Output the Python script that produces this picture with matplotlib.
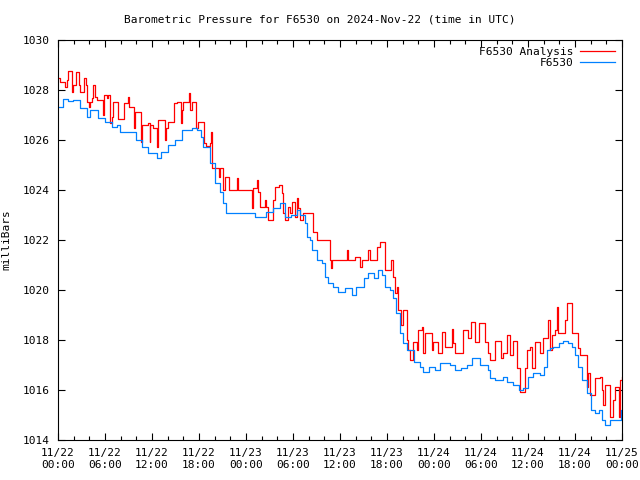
import datetime as dt
import matplotlib
matplotlib.use('Agg')
import matplotlib.pyplot as plt
import matplotlib.dates as mdates

# hours after 2024-11-22 00:00 UTC, pressure in mbar
obs_hours = [0.0, 0.68, 1.3, 1.95, 2.8, 3.66, 4.1, 4.7, 5.1, 6.0, 6.86, 7.5, 7.9, 9.6,
             10.0, 10.7, 11.5, 12.6, 13.2, 14.1, 14.9, 15.8, 17.1, 17.7, 18.3, 18.5,
             19.4, 20.0, 20.7, 21.1, 21.5, 24.5, 25.1, 26.6, 27.5, 28.3, 29.0, 29.8,
             30.5, 30.9, 31.5, 31.75, 32.2, 32.4, 33.0, 33.7, 34.1, 34.5, 35.1, 35.8,
             36.6, 37.5, 38.1, 39.0, 39.6, 40.3, 40.9, 41.3, 41.7, 42.4, 42.8, 43.2,
             43.66, 44.1, 44.5, 45.4, 46.2, 46.6, 47.3, 48.1, 48.8, 50.0, 50.7, 51.5,
             52.2, 52.8, 53.2, 53.9, 54.5, 54.9, 55.2, 55.8, 56.4, 56.8, 57.3, 58.1,
             58.8, 59.4, 60.0, 60.7, 61.5, 62.0, 62.4, 62.8, 63.2, 63.9, 64.5, 65.1,
             65.6, 66.0, 66.4, 66.9, 67.5, 68.1, 68.6, 69.0, 69.4, 69.8, 70.5, 71.7,
             71.9, 72.0]
obs_mbar = [1027.33, 1027.63, 1027.55, 1027.6, 1027.27, 1026.93, 1027.2, 1027.2, 1026.87,
            1026.73, 1026.53, 1026.6, 1026.33, 1026.33, 1026.0, 1025.73, 1025.47, 1025.27,
            1025.53, 1025.8, 1026.0, 1026.4, 1026.5, 1026.4, 1026.13, 1025.73, 1025.07,
            1024.27, 1023.93, 1023.47, 1023.07, 1023.1, 1022.93, 1023.13, 1023.27, 1023.49,
            1022.93, 1023.0, 1023.2, 1023.0, 1022.67, 1022.13, 1022.0, 1021.6, 1021.2,
            1021.07, 1020.53, 1020.27, 1020.13, 1019.93, 1020.07, 1019.8, 1020.13, 1020.47,
            1020.67, 1020.47, 1020.8, 1020.6, 1020.13, 1020.0, 1019.67, 1019.07, 1018.3,
            1017.87, 1017.6, 1017.13, 1016.93, 1016.73, 1016.93, 1016.8, 1017.07, 1017.0,
            1016.8, 1016.87, 1017.0, 1017.27, 1017.27, 1017.0, 1017.0, 1016.8, 1016.47,
            1016.4, 1016.4, 1016.53, 1016.33, 1016.2, 1016.0, 1016.07, 1016.53, 1016.67,
            1016.6, 1016.93, 1017.6, 1017.67, 1017.73, 1017.87, 1017.96, 1017.87, 1017.73,
            1017.4, 1016.93, 1016.4, 1015.87, 1015.2, 1015.07, 1015.2, 1014.8, 1014.6,
            1014.8, 1014.8, 1015.2, 1015.2]

ana_hours = [0.0, 0.3, 0.9, 1.1, 1.3, 1.75, 1.95, 2.26, 2.68, 2.81, 3.36, 3.54, 3.74,
             4.0, 4.1, 4.3, 4.51, 4.72, 4.94, 5.71, 5.87, 6.22, 6.42, 6.64, 6.86, 7.06,
             7.7, 8.46, 8.9, 9.0, 9.7, 9.83, 10.6, 10.76, 11.53, 11.71, 11.8, 12.17,
             12.68, 12.8, 13.66, 13.85, 14.08, 14.81, 15.15, 15.7, 15.79, 16.0, 16.72,
             16.79, 17.07, 17.66, 17.91, 18.64, 18.86, 19.4, 19.49, 19.7, 20.59, 20.74,
             21.1, 21.32, 21.83, 22.81, 22.98, 24.73, 24.93, 25.37, 25.57, 25.79, 26.43,
             26.6, 26.85, 27.41, 27.7, 28.2, 28.56, 28.76, 28.98, 29.4, 29.62, 29.83,
             30.26, 30.47, 30.64, 30.89, 31.32, 32.59, 33.03, 34.72, 34.9, 35.0, 36.86,
             37.02, 37.92, 38.55, 38.75, 39.61, 39.83, 40.69, 41.11, 41.75, 42.47, 42.73,
             43.02, 43.24, 43.44, 43.75, 44.08, 44.52, 44.72, 44.94, 45.36, 45.79, 46.0,
             46.43, 46.64, 46.85, 47.71, 47.91, 48.55, 48.98, 49.41, 50.26, 50.47, 50.68,
             51.74, 52.4, 52.69, 53.24, 53.75, 54.51, 54.93, 55.15, 55.79, 56.52, 56.87,
             57.28, 57.7, 58.13, 58.56, 58.98, 59.62, 59.84, 60.26, 60.47, 60.9, 61.53,
             61.88, 62.59, 62.75, 63.03, 63.45, 63.67, 63.87, 64.72, 64.94, 65.58, 66.42,
             66.64, 67.49, 67.7, 67.91, 68.55, 69.19, 69.41, 69.53, 69.83, 70.47, 70.89,
             71.11, 71.62, 71.74, 72.0]
ana_mbar = [1028.47, 1028.33, 1028.13, 1028.4, 1028.77, 1027.93, 1028.2, 1028.73, 1028.2,
            1027.93, 1028.47, 1028.2, 1027.53, 1027.33, 1027.53, 1027.67, 1028.2, 1027.73,
            1027.6, 1027.0, 1027.8, 1027.67, 1027.8, 1026.67, 1026.93, 1027.53, 1026.83,
            1027.47, 1027.73, 1027.33, 1026.47, 1027.13, 1025.93, 1026.6, 1026.67, 1025.93,
            1026.6, 1026.47, 1025.73, 1026.8, 1026.0, 1026.47, 1026.73, 1027.47, 1027.53,
            1026.67, 1027.2, 1027.53, 1027.87, 1027.2, 1027.53, 1026.47, 1026.73, 1025.87,
            1025.76, 1025.87, 1026.33, 1024.87, 1024.53, 1024.87, 1024.0, 1024.53, 1024.0,
            1024.47, 1024.0, 1023.27, 1024.07, 1024.4, 1023.93, 1023.33, 1023.6, 1023.33,
            1022.8, 1023.6, 1024.13, 1024.2, 1023.87, 1023.07, 1022.8, 1023.33, 1023.07,
            1023.53, 1022.93, 1023.67, 1023.27, 1022.8, 1023.07, 1022.33, 1022.0, 1021.2,
            1020.87, 1021.2, 1021.6, 1021.2, 1021.33, 1020.93, 1021.2, 1021.6, 1021.2,
            1021.73, 1021.93, 1020.8, 1021.2, 1020.53, 1019.87, 1020.13, 1019.2, 1018.6,
            1019.2, 1018.0, 1017.6, 1017.2, 1017.93, 1017.6, 1018.4, 1018.51, 1017.47,
            1018.27, 1017.6, 1017.93, 1017.47, 1018.33, 1017.73, 1018.43, 1017.9, 1017.47,
            1018.4, 1018.1, 1018.73, 1017.93, 1018.67, 1017.93, 1017.47, 1017.2, 1017.97,
            1017.27, 1017.47, 1018.2, 1017.4, 1017.97, 1016.87, 1015.93, 1016.87, 1017.6,
            1017.73, 1016.87, 1017.93, 1017.47, 1018.07, 1018.8, 1017.6, 1018.2, 1018.4,
            1019.33, 1018.27, 1018.8, 1019.49, 1018.27, 1017.67, 1017.4, 1016.13, 1016.67,
            1015.8, 1016.47, 1016.53, 1016.0, 1015.4, 1016.2, 1014.93, 1015.6, 1016.13,
            1014.93, 1016.4, 1016.53]

start = dt.datetime(2024, 11, 22)
obs_t = [start + dt.timedelta(hours=h) for h in obs_hours]
ana_t = [start + dt.timedelta(hours=h) for h in ana_hours]

plt.rcParams['font.family'] = 'DejaVu Sans Mono'
plt.rcParams['font.size'] = 8

fig = plt.figure(figsize=(6.4, 4.8), dpi=100)
ax = fig.add_axes([58 / 640, 40 / 480, 564 / 640, 400 / 480])

ax.plot(ana_t, ana_mbar, color='#ff0000', linewidth=0.9, drawstyle='steps-post', label='F6530 Analysis')
ax.plot(obs_t, obs_mbar, color='#0080ff', linewidth=0.9, drawstyle='steps-post', label='F6530')

ax.set_xlim(start, start + dt.timedelta(hours=72))
ax.set_ylim(1014, 1030)
ax.set_yticks(range(1014, 1031, 2))
ax.xaxis.set_major_locator(mdates.HourLocator(byhour=[0, 6, 12, 18]))
ax.xaxis.set_minor_locator(mdates.HourLocator(byhour=range(0, 24, 2)))
ax.xaxis.set_major_formatter(mdates.DateFormatter('%m/%d\n%H:%M'))
ax.tick_params(which='major', direction='in', length=5, width=0.8, top=True, right=True, pad=6)
ax.tick_params(which='minor', direction='in', length=3, width=0.8, top=True)
for s in ax.spines.values():
    s.set_linewidth(0.8)

ax.set_ylabel('milliBars', labelpad=8)
fig.text(0.5, 1 - 20 / 480, 'Barometric Pressure for F6530 on 2024-Nov-22 (time in UTC)',
         ha='center', va='center')
ax.legend(loc='upper right', frameon=False, markerfirst=False, handlelength=3.2,
          borderaxespad=0.2, labelspacing=0.1, handletextpad=0.6)

fig.savefig('out.png', dpi=100)
